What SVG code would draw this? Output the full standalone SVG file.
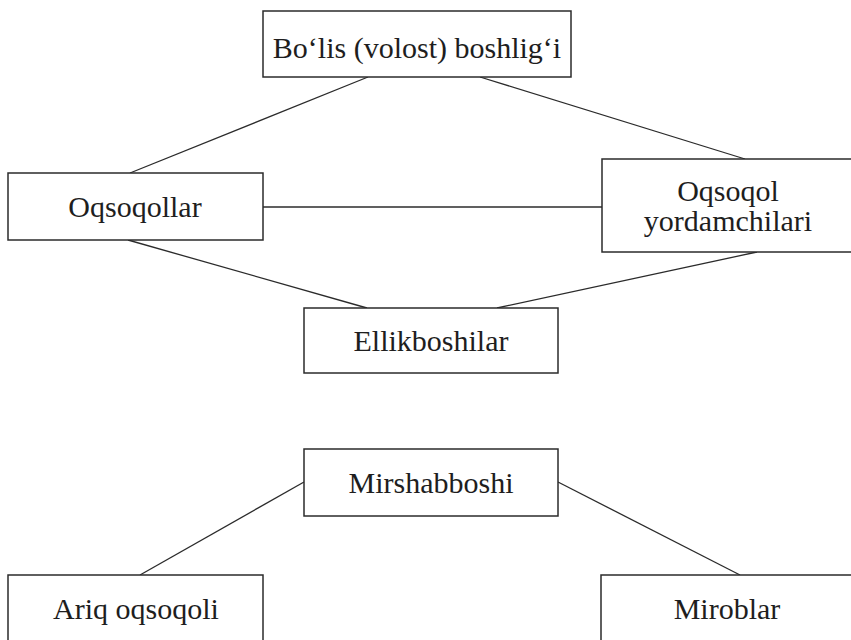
<svg xmlns="http://www.w3.org/2000/svg" width="851" height="640" viewBox="0 0 851 640">
<style>
.box{fill:#fff;stroke:#2b2b2b;stroke-width:1.5}
.t{font-family:"Liberation Serif","Times New Roman",serif;font-size:30px;fill:#1e1e1e;text-anchor:middle}
.c{stroke:#2b2b2b;stroke-width:1.3;fill:none}
</style>
<rect width="851" height="640" fill="#fff"/>
<g id="connectors">
<line class="c" x1="368" y1="77" x2="130" y2="173"/>
<line class="c" x1="480" y1="77" x2="745" y2="159"/>
<line class="c" x1="263" y1="207" x2="602" y2="207"/>
<line class="c" x1="128" y1="240" x2="367" y2="308"/>
<line class="c" x1="757" y1="252" x2="497" y2="308"/>
<line class="c" x1="304" y1="482" x2="140" y2="575"/>
<line class="c" x1="558" y1="482" x2="740" y2="575"/>
</g>
<g id="n1"><rect class="box" x="263" y="11" width="308" height="66"/><text class="t" x="417" y="58">Bo‘lis (volost) boshlig‘i</text></g>
<g id="n2"><rect class="box" x="8" y="173" width="255" height="67"/><text class="t" x="135" y="217">Oqsoqollar</text></g>
<g id="n3"><rect class="box" x="602" y="159" width="252" height="93"/><text class="t" x="728" y="201">Oqsoqol</text><text class="t" x="728" y="231">yordamchilari</text></g>
<g id="n4"><rect class="box" x="304" y="308" width="254" height="65"/><text class="t" x="431" y="351">Ellikboshilar</text></g>
<g id="n5"><rect class="box" x="304" y="449" width="254" height="67"/><text class="t" x="431" y="493">Mirshabboshi</text></g>
<g id="n6"><rect class="box" x="8" y="575" width="255" height="70"/><text class="t" x="136" y="619">Ariq oqsoqoli</text></g>
<g id="n7"><rect class="box" x="601" y="575" width="255" height="70"/><text class="t" x="727" y="619">Miroblar</text></g>
</svg>
